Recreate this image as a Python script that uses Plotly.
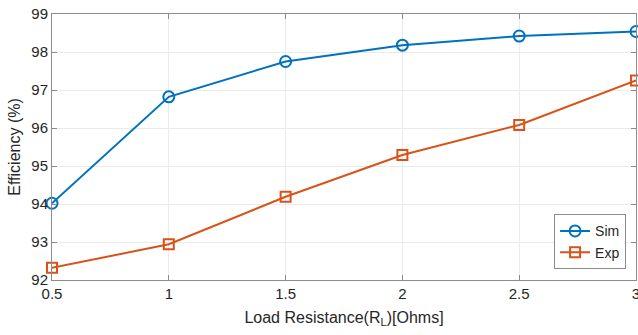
import plotly.graph_objects as go

load_r = [0.5, 1, 1.5, 2, 2.5, 3]
sim = [94.02, 96.82, 97.75, 98.18, 98.42, 98.54]
exp_ = [92.32, 92.94, 94.19, 95.29, 96.08, 97.25]
x_ticks = [0.5, 1, 1.5, 2, 2.5, 3]
x_ticktext = ["0.5", "1", "1.5", "2", "2.5", "3"]
y_ticks = [92, 93, 94, 95, 96, 97, 98, 99]

BLUE = "#0072BD"
ORANGE = "#D95319"
FONT = "Liberation Sans, Arial, sans-serif"

fig = go.Figure()
fig.add_trace(go.Scatter(
    x=load_r, y=sim, name="Sim", mode="lines+markers",
    line=dict(color=BLUE, width=2),
    marker=dict(symbol="circle-open", size=11, color=BLUE, line=dict(width=2)),
    cliponaxis=False,
))
fig.add_trace(go.Scatter(
    x=load_r, y=exp_, name="Exp", mode="lines+markers",
    line=dict(color=ORANGE, width=2),
    marker=dict(symbol="square-open", size=10, color=ORANGE, line=dict(width=2)),
    cliponaxis=False,
))

axis_common = dict(
    showline=True, linecolor="#8c8c8c", linewidth=1, mirror="ticks",
    ticks="inside", ticklen=5, tickcolor="#8c8c8c",
    showgrid=True, gridcolor="#ebebeb", gridwidth=1,
    zeroline=False, automargin=False,
    tickfont=dict(family=FONT, size=15, color="#262626"),
)

fig.update_layout(
    width=638, height=335,
    margin=dict(l=52, r=2, t=14, b=55),
    paper_bgcolor="white", plot_bgcolor="white",
    font=dict(family=FONT, color="#262626"),
    xaxis=dict(
        range=[0.5, 3], tickvals=x_ticks, ticktext=x_ticktext,
        ticklabeloverflow="allow",
        title=dict(text="Load Resistance(R<sub>L</sub>)[Ohms]", font=dict(family=FONT, size=16, color="#262626"), standoff=10),
        **axis_common,
    ),
    yaxis=dict(
        range=[92, 99], tickvals=y_ticks,
        title=dict(text="Efficiency (%)", font=dict(family=FONT, size=16, color="#262626"), standoff=6),
        **axis_common,
    ),
    legend=dict(
        x=0.983, xanchor="right", y=0.04, yanchor="bottom",
        bgcolor="white", bordercolor="#8c8c8c", borderwidth=1,
        font=dict(family=FONT, size=14, color="#262626"),
        itemwidth=30, tracegroupgap=0,
    ),
    showlegend=True,
)

fig.write_html("out.html")
